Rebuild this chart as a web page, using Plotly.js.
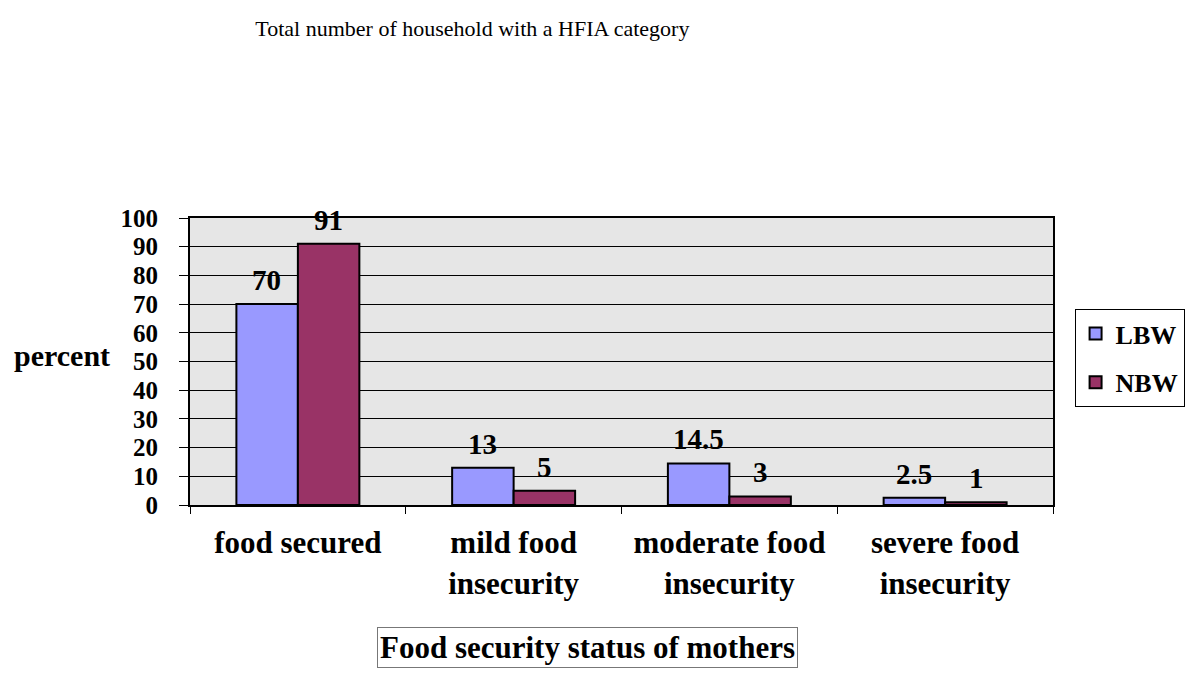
<!DOCTYPE html>
<html>
<head>
<meta charset="utf-8">
<script src="https://cdn.plot.ly/plotly-3.0.1.min.js"></script>
<style>html,body{margin:0;padding:0;background:#fff;}#chart{width:1199px;height:698px;}</style>
</head>
<body>
<div id="chart"></div>
<script>
const categories = ["food secured", "mild food<br>insecurity", "moderate food<br>insecurity", "severe food<br>insecurity"];
const seriesNames = ["LBW", "NBW"];
const lbwValues = [70, 13, 14.5, 2.5];
const nbwValues = [91, 5, 3, 1];
const yTicks = [0, 10, 20, 30, 40, 50, 60, 70, 80, 90, 100];

const serif = "Liberation Serif";
const boldFont = (size) => ({family: serif, size: size, color: "#000", weight: "bold"});

const traces = [
  {type: "bar", name: seriesNames[0], legendgroup: "g1", x: categories, y: lbwValues,
   marker: {color: "#9999ff", line: {color: "#000", width: 2}}},
  {type: "bar", name: seriesNames[1], legendgroup: "g2", x: categories, y: nbwValues,
   marker: {color: "#993366", line: {color: "#000", width: 2}}}
];

const labelAnns = [];
[lbwValues, nbwValues].forEach((vals, s) => {
  vals.forEach((v, i) => {
    labelAnns.push({x: categories[i], y: v, xref: "x", yref: "y", text: String(v),
      showarrow: false, yanchor: "bottom", xshift: s === 0 ? -31 : 31, yshift: 6,
      font: boldFont(29)});
  });
});

const layout = {
  width: 1199, height: 698,
  margin: {l: 190, r: 146, t: 218, b: 193, pad: 0},
  paper_bgcolor: "#fff",
  plot_bgcolor: "#e6e6e6",
  barmode: "group", bargap: 0.43, bargroupgap: 0,
  title: {text: "Total number of household with a HFIA category",
          font: {family: serif, size: 22, color: "#000"},
          x: 0.394, xanchor: "center", xref: "container", y: 0.96, yanchor: "middle"},
  xaxis: {type: "category", showgrid: false, tickfont: boldFont(31),
          showline: true, linecolor: "#000", linewidth: 2, mirror: true,
          ticks: "outside", tickson: "boundaries", ticklen: 7, tickcolor: "#000", ticklabelstandoff: 9},
  yaxis: {range: [0, 100], tickvals: yTicks, ticktext: yTicks.map(String),
          tickfont: boldFont(25), showgrid: true, gridcolor: "#000", gridwidth: 1,
          showline: true, linecolor: "#000", linewidth: 2, mirror: true,
          ticks: "outside", ticklen: 9, tickcolor: "#000", zeroline: false, ticklabelstandoff: 16},
  showlegend: true,
  legend: {x: 1.025, xanchor: "left", y: 0.683, yanchor: "top",
           bordercolor: "#000", borderwidth: 1, bgcolor: "#fff",
           font: boldFont(26), traceorder: "grouped", tracegroupgap: 12, itemwidth: 30},
  annotations: labelAnns.concat([
    {text: "percent", xref: "paper", yref: "paper", x: -0.09, xanchor: "right", y: 0.52, yanchor: "middle",
     showarrow: false, font: boldFont(30)},
    {text: "Food security status of mothers", xref: "paper", yref: "paper", x: 0.461, xanchor: "center",
     y: -0.498, yanchor: "middle", showarrow: false, font: boldFont(31),
     bordercolor: "#777", borderwidth: 1, borderpad: 2}
  ])
};

Plotly.newPlot("chart", traces, layout, {displayModeBar: false});
</script>
</body>
</html>
